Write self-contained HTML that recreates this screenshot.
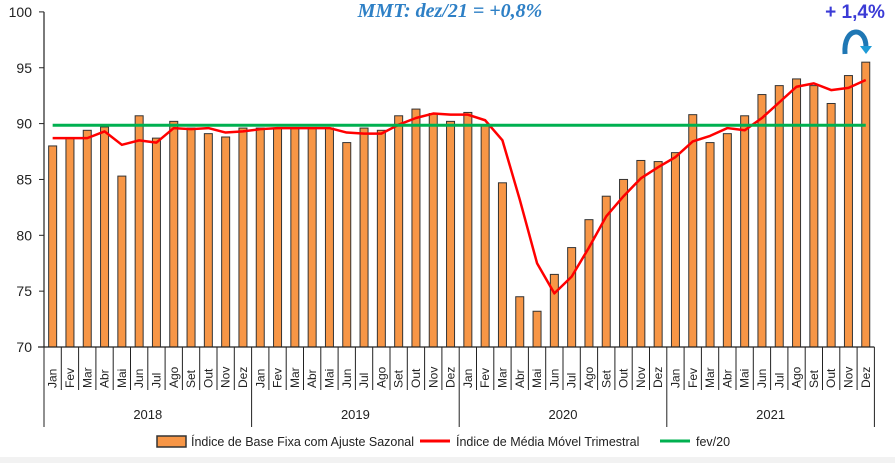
<!DOCTYPE html>
<html><head><meta charset="utf-8"><style>
body{margin:0;background:#fff;width:895px;height:463px;overflow:hidden;font-family:"Liberation Sans",sans-serif}
</style></head><body>
<svg id="chart" width="895" height="463" xmlns="http://www.w3.org/2000/svg" font-family="Liberation Sans, sans-serif">
<rect x="0" y="457" width="895" height="6" fill="#f2f2f2"/>
<g id="grid"></g><g id="bars"></g><g id="lines"></g><g id="axes"></g>
<text x="450" y="17" font-size="20" font-style="italic" font-weight="bold" fill="#2e80c6" font-family="Liberation Serif, serif" text-anchor="middle">MMT: dez/21 =  +0,8%</text>
<text x="855" y="18" font-size="19" font-weight="bold" fill="#3b3bd6" text-anchor="middle">+ 1,4%</text>
<path d="M845 54 C843 26 866 26 866 47" fill="none" stroke="#1f77b4" stroke-width="5"/>
<path d="M860 46 L872 46 L866 54 Z" fill="#1f9bd6"/>
<g>
<rect x="157" y="436" width="29" height="11" fill="#f79646" stroke="#333" stroke-width="1.5"/>
<text x="191" y="446" font-size="12.5" fill="#222">Índice de Base Fixa com Ajuste Sazonal</text>
<line x1="420" y1="441" x2="450" y2="441" stroke="#ff0000" stroke-width="3"/>
<text x="456" y="446" font-size="12.5" fill="#222">Índice de Média Móvel Trimestral</text>
<line x1="660" y1="441" x2="690" y2="441" stroke="#00b050" stroke-width="3"/>
<text x="696" y="446" font-size="12.5" fill="#222">fev/20</text>
</g>
</svg>
<script>
const months=["Jan","Fev","Mar","Abr","Mai","Jun","Jul","Ago","Set","Out","Nov","Dez"];
const years=["2018","2019","2020","2021"];
const indexValues=[88.0,88.7,89.4,89.7,85.3,90.7,88.7,90.2,89.6,89.1,88.8,89.6,
89.6,89.6,89.6,89.6,89.6,88.3,89.6,89.4,90.7,91.3,90.9,90.2,
91.0,89.8,84.7,74.5,73.2,76.5,78.9,81.4,83.5,85.0,86.7,86.6,
87.4,90.8,88.3,89.1,90.7,92.6,93.4,94.0,93.4,91.8,94.3,95.5];
const mmtValues=[88.7,88.7,88.7,89.3,88.1,88.5,88.3,89.6,89.5,89.6,89.2,89.3,
89.5,89.6,89.6,89.6,89.6,89.2,89.1,89.1,89.9,90.5,90.9,90.8,
90.8,90.3,88.5,83.2,77.5,74.8,76.3,78.9,81.7,83.5,85.1,86.1,
87.0,88.4,88.9,89.6,89.4,90.5,91.9,93.3,93.6,93.0,93.2,93.9];
const refValue=[89.85];
const yTicks=[70,75,80,85,90,95,100];
const NS="http://www.w3.org/2000/svg";
const X0=44,STEP=17.3,Y0=347,PX=11.17;
const xC=i=>X0+STEP*(i+0.5);
const yS=v=>Y0-(v-70)*PX;
function mk(tag,attrs,parent){const e=document.createElementNS(NS,tag);for(const k in attrs)e.setAttribute(k,attrs[k]);parent.appendChild(e);return e;}
const bars=document.getElementById('bars'),lines=document.getElementById('lines'),axes=document.getElementById('axes');
indexValues.forEach((v,i)=>{
 const r=mk('rect',{x:xC(i)-4,y:yS(v),width:8,height:Y0-yS(v),fill:'#f79646',stroke:'#333','stroke-width':1},bars);
 
 
});
const mm=mk('polyline',{points:mmtValues.map((v,i)=>xC(i)+','+yS(v)).join(' '),fill:'none',stroke:'#ff0000','stroke-width':2.5,'stroke-linejoin':'round'},lines);


const gl=mk('line',{x1:xC(0),x2:xC(indexValues.length-1),y1:yS(refValue[0]),y2:yS(refValue[0]),stroke:'#00b050','stroke-width':3},lines);


const XE=X0+STEP*indexValues.length;
const ya=mk('line',{x1:X0,x2:X0,y1:yS(100),y2:Y0,stroke:'#222','stroke-width':1.2},axes);


const xa=mk('line',{x1:X0-6,x2:XE,y1:Y0,y2:Y0,stroke:'#222','stroke-width':1.2},axes);


yTicks.forEach(t=>{
 mk('line',{x1:X0-5,x2:X0,y1:yS(t),y2:yS(t),stroke:'#222'},axes);
 const tx=mk('text',{x:X0-12,y:yS(t)+5,'font-size':14,'text-anchor':'end',fill:'#222'},axes);
 tx.textContent=t;
 
 
});
for(let i=0;i<=indexValues.length;i++){
 const x=X0+STEP*i;
 mk('line',{x1:x,x2:x,y1:Y0,y2:(i%12===0)?427:390,stroke:'#222','stroke-width':1},axes);
}
indexValues.forEach((v,i)=>{
 const x=xC(i)+4,y=388;
 const t=mk('text',{x:x,y:y,'font-size':12,fill:'#222',transform:`rotate(-90 ${x} ${y})`},axes);
 t.textContent=months[i%12];
 
 
});
years.forEach((yr,k)=>{
 const t=mk('text',{x:X0+STEP*(12*k+6),y:419,'font-size':13,'text-anchor':'middle',fill:'#222'},axes);
 t.textContent=yr;
 
 
});
</script>
</body></html>
